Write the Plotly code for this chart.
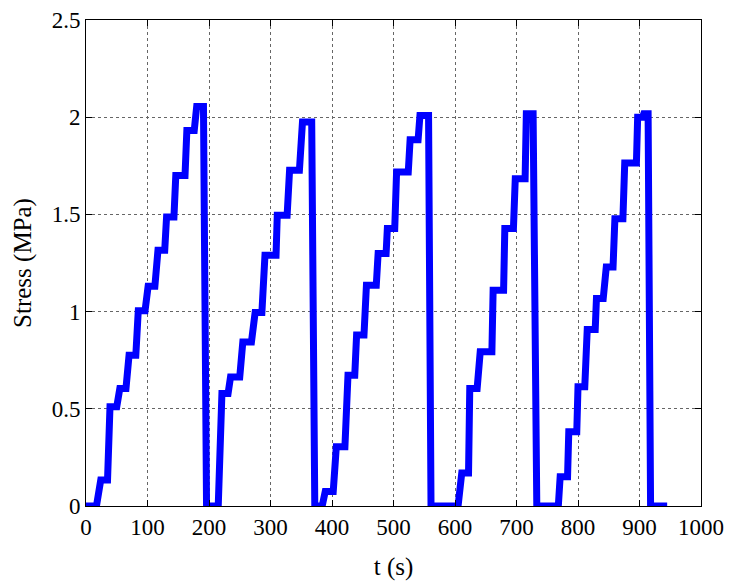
import plotly.graph_objects as go

# Step plateaus: start time, end time (s), stress level (MPa)
plateau_start = [0, 24, 39, 55, 70, 85, 101, 117, 131, 146, 164, 180,
                 196, 221, 235, 255, 275, 291, 311, 331, 352,
                 372, 389, 407, 426, 440, 456, 475, 490, 505, 527, 543,
                 561, 611, 624, 641, 662, 681, 698, 716,
                 733, 771, 785, 800, 815, 830, 846, 860, 876, 897, 907,
                 918]
plateau_end = [17, 35, 50, 65, 81, 96, 112, 128, 143, 161, 176, 191,
               215, 231, 250, 269, 286, 309, 327, 347, 367,
               384, 402, 421, 437, 452, 472, 488, 502, 524, 540, 557,
               605, 622, 636, 660, 679, 695, 714, 727,
               768, 783, 798, 811, 828, 841, 857, 873, 895, 905, 914,
               945]
stress_level = [0, 0.134, 0.51, 0.605, 0.776, 1.005, 1.13, 1.315, 1.487, 1.70, 1.932, 2.055,
                0, 0.579, 0.664, 0.844, 0.995, 1.29, 1.495, 1.727, 1.975,
                0, 0.074, 0.305, 0.673, 0.879, 1.136, 1.299, 1.427, 1.718, 1.884, 2.009,
                0, 0.17, 0.605, 0.793, 1.11, 1.427, 1.684, 2.018,
                0, 0.151, 0.382, 0.613, 0.908, 1.067, 1.23, 1.478, 1.764, 2.0, 2.018,
                0]

x_ticks = list(range(0, 1001, 100))
y_ticks = [0, 0.5, 1, 1.5, 2, 2.5]

t_vals, s_vals = [], []
for ts, te, v in zip(plateau_start, plateau_end, stress_level):
    t_vals += [ts, te]
    s_vals += [v, v]

FONT = "Liberation Serif"

fig = go.Figure()
fig.add_trace(go.Scatter(x=t_vals, y=s_vals, mode="lines",
                         line=dict(color="#0000FF", width=7),
                         showlegend=False))

axis_common = dict(
    showline=True, linecolor="black", linewidth=1, mirror="ticks",
    showgrid=True, gridcolor="#666666", griddash="dot", gridwidth=1,
    ticks="inside", ticklen=6, tickcolor="black",
    zeroline=False, automargin=False,
    tickfont=dict(family=FONT, size=23, color="black"),
)

fig.update_xaxes(range=[0, 1000], tickvals=x_ticks,
                 ticktext=[str(v) for v in x_ticks],
                 title=dict(text="t (s)", font=dict(family=FONT, size=25, color="black"),
                            standoff=20),
                 **axis_common)
fig.update_yaxes(range=[0, 2.5], tickvals=y_ticks,
                 ticktext=["0", "0.5", "1", "1.5", "2", "2.5"],
                 title=dict(text="Stress (MPa)", font=dict(family=FONT, size=25, color="black"),
                            standoff=12),
                 **axis_common)

# page body has an 8px margin, so the figure is sized to fit the 735x581 window
fig.update_layout(
    width=727, height=573,
    margin=dict(l=78, r=34, t=12, b=75),
    paper_bgcolor="white", plot_bgcolor="white",
)

fig.write_html("out.html")
